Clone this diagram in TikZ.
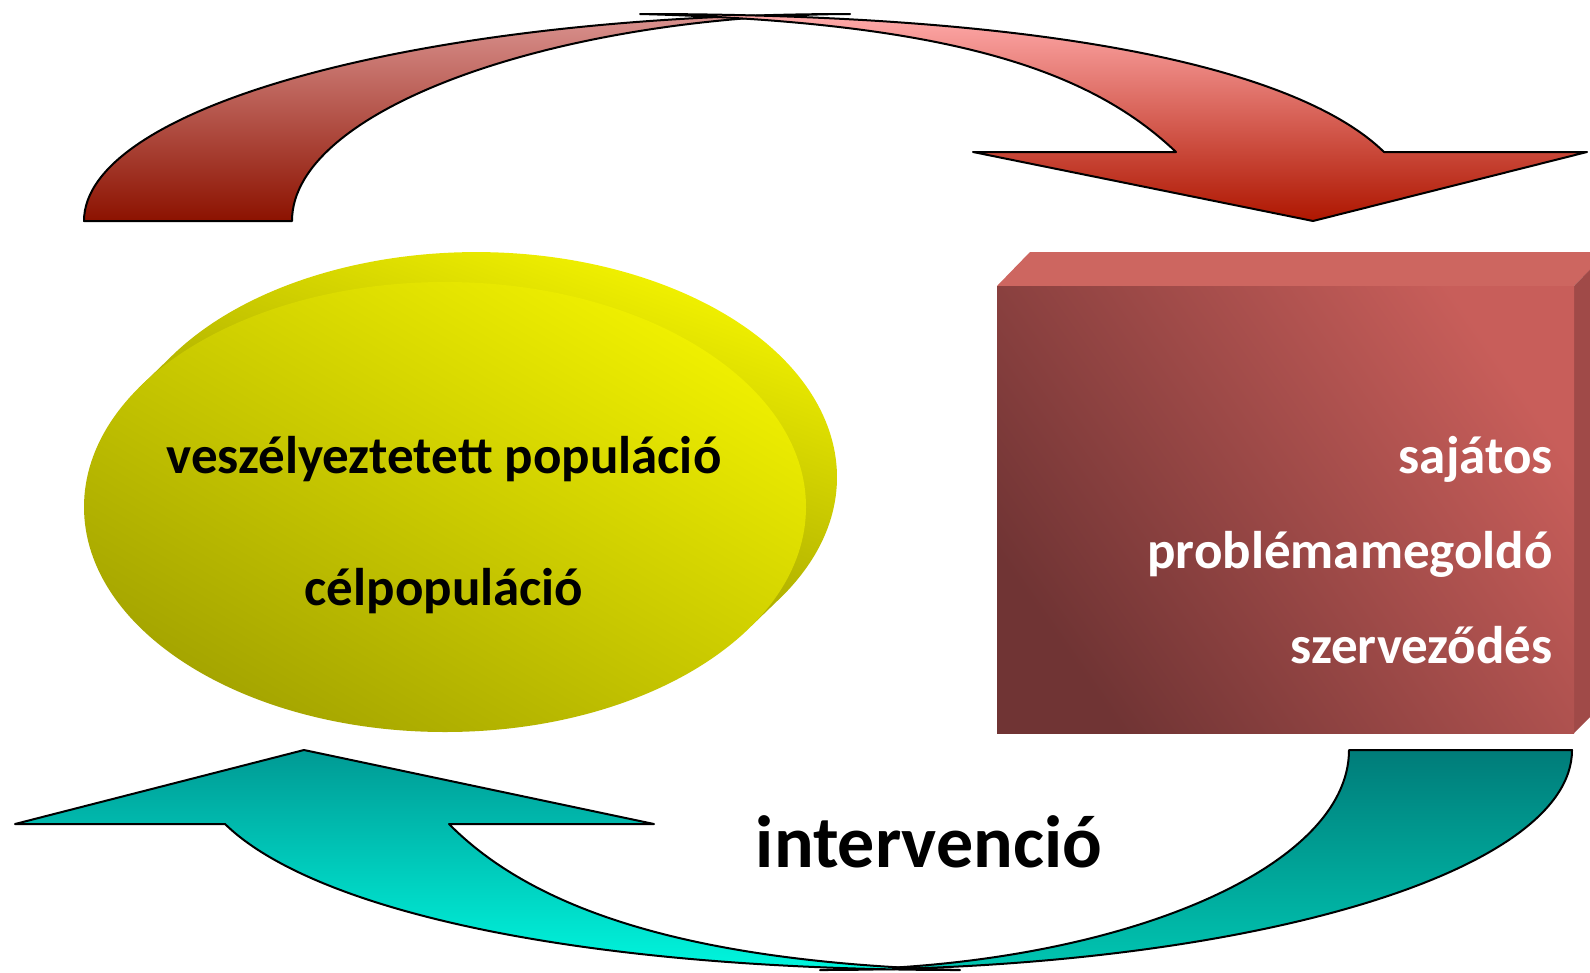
\documentclass[tikz,border=0pt]{standalone}
\usepackage{fontspec}
\setmainfont{Carlito}
\definecolor{redBackTop}{HTML}{DA9390}
\definecolor{redBackBot}{HTML}{8C1200}
\definecolor{redFrontTop}{HTML}{FFAAAA}
\definecolor{redFrontBot}{HTML}{AE1600}
\definecolor{tealBackTop}{HTML}{007C79}
\definecolor{tealBackBot}{HTML}{00C6B2}
\definecolor{tealFrontTop}{HTML}{009A94}
\definecolor{tealFrontBot}{HTML}{00F6DE}
\definecolor{ylwSideTop}{HTML}{FFFF00}
\definecolor{ylwSideBot}{HTML}{8A8A00}
\definecolor{ylwFaceTop}{HTML}{F0F000}
\definecolor{ylwFaceBot}{HTML}{A4A400}
\definecolor{boxLight}{HTML}{C85E5A}
\definecolor{boxDark}{HTML}{703434}
\definecolor{boxTop}{HTML}{CD6660}
\definecolor{boxSide}{HTML}{A04A48}
\begin{document}
\begin{tikzpicture}[x=1pt,y=-1pt,
  edge/.style={draw=black,line width=2pt,line join=round},
  lbl/.style={font=\fontsize{53}{60}\selectfont\bfseries,inner sep=0pt},
  biglbl/.style={font=\fontsize{74}{80}\selectfont\bfseries,inner sep=0pt}]
\useasboundingbox (0,0) rectangle (1590,972);
\begin{scope}
\clip (0,0) rectangle (1590,972);
% ---- top red curved arrow: back band
\path[edge, top color=redBackTop, bottom color=redBackBot]
  (84,221) .. controls (84,107) and (420,14) .. (850,14)
  .. controls (560,15) and (292,108) .. (292,221) -- cycle;
% ---- top red curved arrow: front band with head
\path[edge, top color=redFrontTop, bottom color=redFrontBot]
  (640,14) .. controls (1060,14) and (1300,70) .. (1384,152)
  -- (1587,152) -- (1313,221) -- (973,152) -- (1176,152)
  .. controls (1090,70) and (950,22) .. (640,14) -- cycle;
% ---- bottom teal curved arrow: back band
\path[edge, top color=tealBackTop, bottom color=tealBackBot]
  (1349,750) -- (1572,750) .. controls (1572,872) and (1249,970) .. (820,970)
  .. controls (1110,969) and (1349,871) .. (1349,750) -- cycle;
% ---- bottom teal curved arrow: front band with head
\path[edge, top color=tealFrontTop, bottom color=tealFrontBot]
  (960,970) .. controls (559,970) and (309,906) .. (225,824)
  -- (15,824) -- (304,750) -- (654,824) -- (449,824)
  .. controls (530,906) and (680,962) .. (960,970) -- cycle;
% ---- yellow disc
\path[top color=ylwSideTop, bottom color=ylwSideBot, shading angle=-20]
  (138.5,388.2) -- (169.5,358.2) arc[start angle=211.9, end angle=391.9, x radius=361, y radius=225]
  -- (751.5,625.8) -- cycle;
\path[top color=ylwFaceTop, bottom color=ylwFaceBot, shading angle=-30]
  (445,507) ellipse[x radius=361, y radius=225];
% ---- red box
\path[fill=boxTop] (997,286) -- (1030,252) -- (1607,252) -- (1574,286) -- cycle;
\path[fill=boxSide] (1574,286) -- (1607,252) -- (1607,700) -- (1574,733) -- cycle;
\path[top color=boxLight, bottom color=boxDark, shading angle=-55]
  (997,286) rectangle (1574,733);
\end{scope}
% ---- texts
\node[lbl, anchor=base] (vesz) at (444,473) {veszélyeztetett populáció};
\node[lbl, anchor=base] (celp) at (444,605) {célpopuláció};
\node[lbl, anchor=base east, text=white] (sajat) at (1553,473) {sajátos};
\node[lbl, anchor=base east, text=white] (probl) at (1553,568) {problémamegoldó};
\node[lbl, anchor=base east, text=white] (szerv) at (1553,663) {szerveződés};
\node[biglbl, anchor=base] (interv) at (929,867) {intervenció};
\end{tikzpicture}
\end{document}
